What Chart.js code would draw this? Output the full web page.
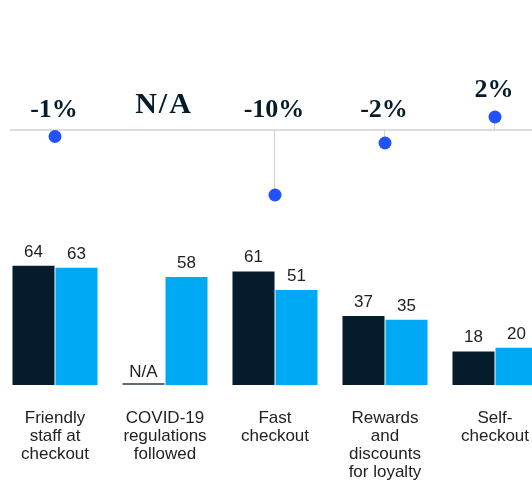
<!DOCTYPE html>
<html><head><meta charset="utf-8">
<script src="https://cdn.jsdelivr.net/npm/chart.js@4"></script>
<style>
html,body{margin:0;padding:0;background:#fff;overflow:hidden;width:532px;height:481px;}
#wrap{position:relative;width:532px;height:481px;overflow:hidden;}
#top{position:absolute;left:0;top:0;width:550px;height:230px;}
#bot{position:absolute;left:0;top:230px;width:550px;height:251px;}
</style></head><body>
<div id="wrap">
<canvas id="top" width="550" height="230"></canvas>
<canvas id="bot" width="550" height="251"></canvas>
</div>
<script>
// ---- data ----
const categories = [
  ['Friendly', 'staff at', 'checkout'],
  ['COVID-19', 'regulations', 'followed'],
  ['Fast', 'checkout'],
  ['Rewards', 'and', 'discounts', 'for loyalty'],
  ['Self-', 'checkout']
];
const previousSurvey = [64, null, 61, 37, 18];
const currentSurvey = [63, 58, 51, 35, 20];
const changePct = [-1, null, -10, -2, 2];

const DARK = '#051c2c', LIGHT = '#00a9f4', DOT = '#2251ff';

// ---- top: change lollipops ----
const lolliPlugin = {
  id: 'lolli',
  beforeDatasetsDraw(chart) {
    const {ctx, scales: {x, y}} = chart;
    const y0 = y.getPixelForValue(0);
    ctx.save();
    ctx.strokeStyle = '#d0d0d0';
    ctx.lineWidth = 1.5;
    ctx.beginPath(); ctx.moveTo(10, y0); ctx.lineTo(chart.width, y0); ctx.stroke();
    ctx.lineWidth = 1;
    changePct.forEach((v, i) => {
      if (v === null) return;
      const px = Math.round(x.getPixelForValue(i)) - 0.5;
      ctx.beginPath(); ctx.moveTo(px, y0); ctx.lineTo(px, y.getPixelForValue(v)); ctx.stroke();
    });
    ctx.restore();
  },
  afterDatasetsDraw(chart) {
    const {ctx, scales: {x, y}} = chart;
    const y0 = y.getPixelForValue(0);
    ctx.save();
    ctx.fillStyle = DARK;
    ctx.textAlign = 'center';
    ctx.textBaseline = 'alphabetic';
    changePct.forEach((v, i) => {
      const px = x.getPixelForValue(i) - 1;
      if (v === null) {
        ctx.font = 'bold 30px "Liberation Serif", serif';
        ctx.letterSpacing = '2px';
        ctx.fillText('N/A', px, y0 - 17);
        ctx.letterSpacing = '0px';
        return;
      }
      ctx.font = 'bold 26px "Liberation Serif", serif';
      const txt = v + '%';
      if (v >= 0) ctx.fillText(txt, px, y.getPixelForValue(v) - 20);
      else ctx.fillText(txt, px, y0 - 13);
    });
    ctx.restore();
  }
};

new Chart(document.getElementById('top'), {
  type: 'line',
  data: {
    labels: categories,
    datasets: [{
      label: 'Change, %',
      data: changePct,
      showLine: false,
      pointRadius: 6.5,
      pointHoverRadius: 6.5,
      pointBackgroundColor: DOT,
      pointBorderWidth: 0,
      borderColor: DOT
    }]
  },
  options: {
    responsive: false, animation: false, devicePixelRatio: 1,
    layout: {autoPadding: false, padding: {top: 104, bottom: 22, left: 0, right: 0}},
    plugins: {legend: {display: false}, tooltip: {enabled: false}},
    scales: {
      x: {display: false, offset: true},
      y: {display: false, min: -12, max: 4}
    }
  },
  plugins: [lolliPlugin]
});

// ---- bottom: grouped bars ----
const barLabels = {
  id: 'barLabels',
  afterDatasetsDraw(chart) {
    const {ctx, scales: {x, y}} = chart;
    const base = y.getPixelForValue(0);
    ctx.save();
    ctx.font = '17px "Liberation Sans", Arial, sans-serif';
    ctx.fillStyle = '#222';
    ctx.textAlign = 'center';
    ctx.textBaseline = 'alphabetic';
    chart.data.datasets.forEach((ds, di) => {
      const meta = chart.getDatasetMeta(di);
      const refIdx = ds.data.findIndex(v => v !== null);
      const ref = meta.data[refIdx];
      const off = ref.x - x.getPixelForValue(refIdx);
      const w = ref.width;
      ds.data.forEach((v, i) => {
        const cx = x.getPixelForValue(i) + off;
        if (v === null) {
          ctx.strokeStyle = '#2a3b4a';
          ctx.lineWidth = 1.5;
          ctx.beginPath(); ctx.moveTo(cx - w / 2, base - 1); ctx.lineTo(cx + w / 2, base - 1); ctx.stroke();
          ctx.fillText('N/A', cx, base - 8);
        } else {
          ctx.fillText(String(v), cx, y.getPixelForValue(v) - 9);
        }
      });
    });
    ctx.restore();
  }
};

new Chart(document.getElementById('bot'), {
  type: 'bar',
  data: {
    labels: categories,
    datasets: [
      {label: 'Previous', data: previousSurvey, backgroundColor: DARK},
      {label: 'Current', data: currentSurvey, backgroundColor: LIGHT}
    ]
  },
  options: {
    responsive: false, animation: false, devicePixelRatio: 1,
    layout: {padding: {top: 6, bottom: 0, left: 0, right: 0}},
    datasets: {bar: {categoryPercentage: 0.782, barPercentage: 0.977}},
    plugins: {legend: {display: false}, tooltip: {enabled: false}},
    scales: {
      x: {
        grid: {display: false},
        border: {display: false},
        ticks: {
          font: {family: '"Liberation Sans", Arial, sans-serif', size: 17, lineHeight: '18px'},
          color: '#222', padding: 16, maxRotation: 0, autoSkip: false
        },
        afterFit(s) { s.height = 96; }
      },
      y: {display: false, min: 0, max: 80}
    }
  },
  plugins: [barLabels]
});
</script>
</body></html>
